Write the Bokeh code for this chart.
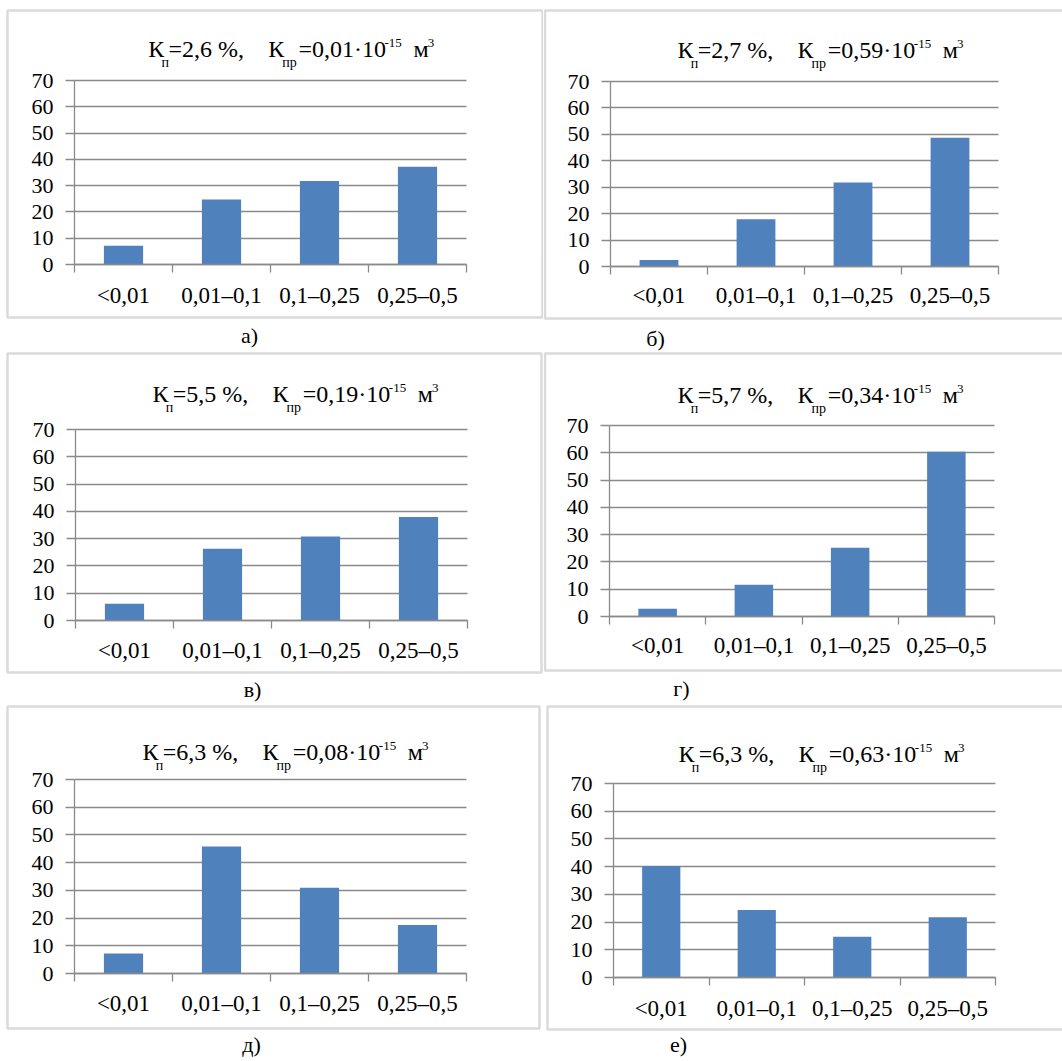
from bokeh.plotting import figure
from bokeh.layouts import row, column
from bokeh.models import Range1d, FixedTicker, BoxAnnotation, Label
from bokeh.embed import file_html
from bokeh.resources import INLINE

# ---------------- data ----------------
categories = ["<0,01", "0,01–0,1", "0,1–0,25", "0,25–0,5"]
y_ticks = [0, 10, 20, 30, 40, 50, 60, 70]
panel_labels = ["а)", "б)", "в)", "г)", "д)", "е)"]
kp_values = ["2,6", "2,7", "5,5", "5,7", "6,3", "6,3"]
kpr_values = ["0,01", "0,59", "0,19", "0,34", "0,08", "0,63"]
values_a = [7.1, 24.7, 31.8, 37.2]
values_b = [2.5, 17.9, 31.8, 48.7]
values_v = [6.1, 26.3, 30.8, 37.9]
values_g = [2.8, 11.6, 25.2, 60.4]
values_d = [7.2, 45.8, 30.9, 17.5]
values_e = [40.2, 24.4, 14.7, 21.7]
all_values = [values_a, values_b, values_v, values_g, values_d, values_e]

# ---------------- layout / style ----------------
FONT = "Liberation Serif"
BAR = "#4F81BD"
GRID = "#8a8a8a"
FRAME = "#848484"

# cell (x0,y0,W,H), chart area (L,R,T,B), frame box, title start/baseline, category label centre, panel letter
geoms = [
    dict(x0=0, y0=0, W=543, H=351, L=74, R=466, T=80, B=264, box=(7, 542, 10, 317), tx=147.7, tb=56, cat_cy=295, lab=(249, 335)),
    dict(x0=543, y0=0, W=519, H=351, L=610, R=998, T=81, B=266, box=(544.5, 1090, 10, 318), tx=677, tb=57, cat_cy=295, lab=(655, 338)),
    dict(x0=0, y0=351, W=543, H=353, L=75, R=467, T=429, B=620, box=(7, 541, 353, 672), tx=152, tb=401, cat_cy=650, lab=(252, 689)),
    dict(x0=543, y0=351, W=519, H=353, L=609, R=994, T=425, B=616, box=(544.5, 1090, 353, 670), tx=677, tb=402, cat_cy=645, lab=(681, 688)),
    dict(x0=0, y0=704, W=543, H=356, L=74, R=466, T=779, B=973, box=(7, 539, 706, 1028), tx=142, tb=759, cat_cy=1003, lab=(251, 1044)),
    dict(x0=543, y0=704, W=519, H=356, L=613, R=995, T=783, B=977, box=(547, 1090, 706, 1029), tx=678, tb=761, cat_cy=1008, lab=(678, 1044)),
]

# title pieces: (dx from start, vertical centre relative to main baseline, font px)
piece_style = [(0, -8, 24), (13.3, 6, 14), (20.3, -8, 24), (120, -8, 24), (134, 6, 14),
               (150.3, -8, 24), (236.3, -14, 13), (265.3, -8, 24), (279.5, -13.5, 13)]


def make_panel(vals, kp, kpr, plabel, g):
    n = len(categories)
    ymin, ymax = y_ticks[0], y_ticks[-1]
    sx = (g["R"] - g["L"]) / n
    sy = (g["B"] - g["T"]) / (ymax - ymin)

    def dx(px):
        return (px - g["L"]) / sx

    def dy(py):
        return ymin + (g["B"] - py) / sy

    p = figure(width=g["W"], height=g["H"], output_backend="svg", toolbar_location=None,
               x_range=Range1d(dx(g["x0"]), dx(g["x0"] + g["W"])),
               y_range=Range1d(dy(g["y0"] + g["H"]), dy(g["y0"])),
               min_border=0, min_border_left=0, min_border_right=0,
               min_border_top=0, min_border_bottom=0, title=None)
    p.outline_line_color = None
    p.background_fill_color = "white"
    p.border_fill_color = "white"

    centers = [i + 0.5 for i in range(n)]
    p.vbar(x=centers, top=vals, width=0.4, fill_color=BAR, line_color=None)

    # y axis
    ya = p.yaxis[0]
    ya.fixed_location = 0
    ya.bounds = (ymin, ymax)
    ya.ticker = FixedTicker(ticks=y_ticks)
    ya.axis_line_color = GRID
    ya.axis_line_width = 1.3
    ya.major_tick_line_color = GRID
    ya.major_tick_line_width = 1.3
    ya.major_tick_out = 9
    ya.major_tick_in = 0
    ya.minor_tick_line_color = None
    ya.major_label_standoff = 12
    ya.major_label_text_font = FONT
    ya.major_label_text_font_size = "22px"
    ya.major_label_text_color = "black"

    # x axis
    xa = p.xaxis[0]
    xa.fixed_location = ymin
    xa.bounds = (0, n)
    xa.ticker = FixedTicker(ticks=centers, minor_ticks=list(range(n + 1)))
    xa.major_label_overrides = {c: cat for c, cat in zip(centers, categories)}
    xa.axis_line_color = GRID
    xa.axis_line_width = 1.3
    xa.major_tick_line_color = None
    xa.major_tick_out = 0
    xa.major_tick_in = 0
    xa.minor_tick_line_color = GRID
    xa.minor_tick_line_width = 1.3
    xa.minor_tick_out = 8
    xa.minor_tick_in = 0
    xa.major_label_standoff = int(round(g["cat_cy"] - g["B"] - 21))
    xa.major_label_text_font = FONT
    xa.major_label_text_font_size = "23px"
    xa.major_label_text_color = "black"

    p.xgrid.grid_line_color = None
    try:
        p.ygrid.cross_bounds = (0, n)
        grid_ok = True
    except Exception:
        grid_ok = False
    if grid_ok:
        p.ygrid.grid_line_color = GRID
        p.ygrid.grid_line_width = 1.3
    else:
        p.ygrid.grid_line_color = None
        p.segment(x0=[0] * len(y_ticks), x1=[n] * len(y_ticks), y0=y_ticks, y1=y_ticks,
                  line_color=GRID, line_width=1.3, level="underlay")

    # frame box around the panel
    bl, br, bt, bb = g["box"]
    p.add_layout(BoxAnnotation(left=dx(bl), right=dx(br), top=dy(bt), bottom=dy(bb),
                               fill_alpha=0, fill_color=None, line_color=FRAME, line_width=2.5))

    # title with sub/superscripts
    texts = ["К", "п", "=" + kp + " %,", "К", "пр", "=" + kpr + "·10", "-15", "м", "3"]
    for t, (ddx, dc, fs) in zip(texts, piece_style):
        p.add_layout(Label(x=dx(g["tx"] + ddx), y=dy(g["tb"] + dc),
                           text=t, text_font=FONT, text_font_size=f"{fs}px", text_color="black",
                           text_align="left", text_baseline="middle"))

    # panel letter
    lx, ly = g["lab"]
    p.add_layout(Label(x=dx(lx), y=dy(ly), text=plabel, text_font=FONT, text_font_size="22px",
                       text_color="black", text_align="center", text_baseline="middle"))
    return p


panels = [make_panel(v, kp, kpr, lab, g)
          for v, kp, kpr, lab, g in zip(all_values, kp_values, kpr_values, panel_labels, geoms)]

layout = column(row(panels[0], panels[1]), row(panels[2], panels[3]), row(panels[4], panels[5]))

open("out.html", "w").write(file_html(layout, INLINE))
